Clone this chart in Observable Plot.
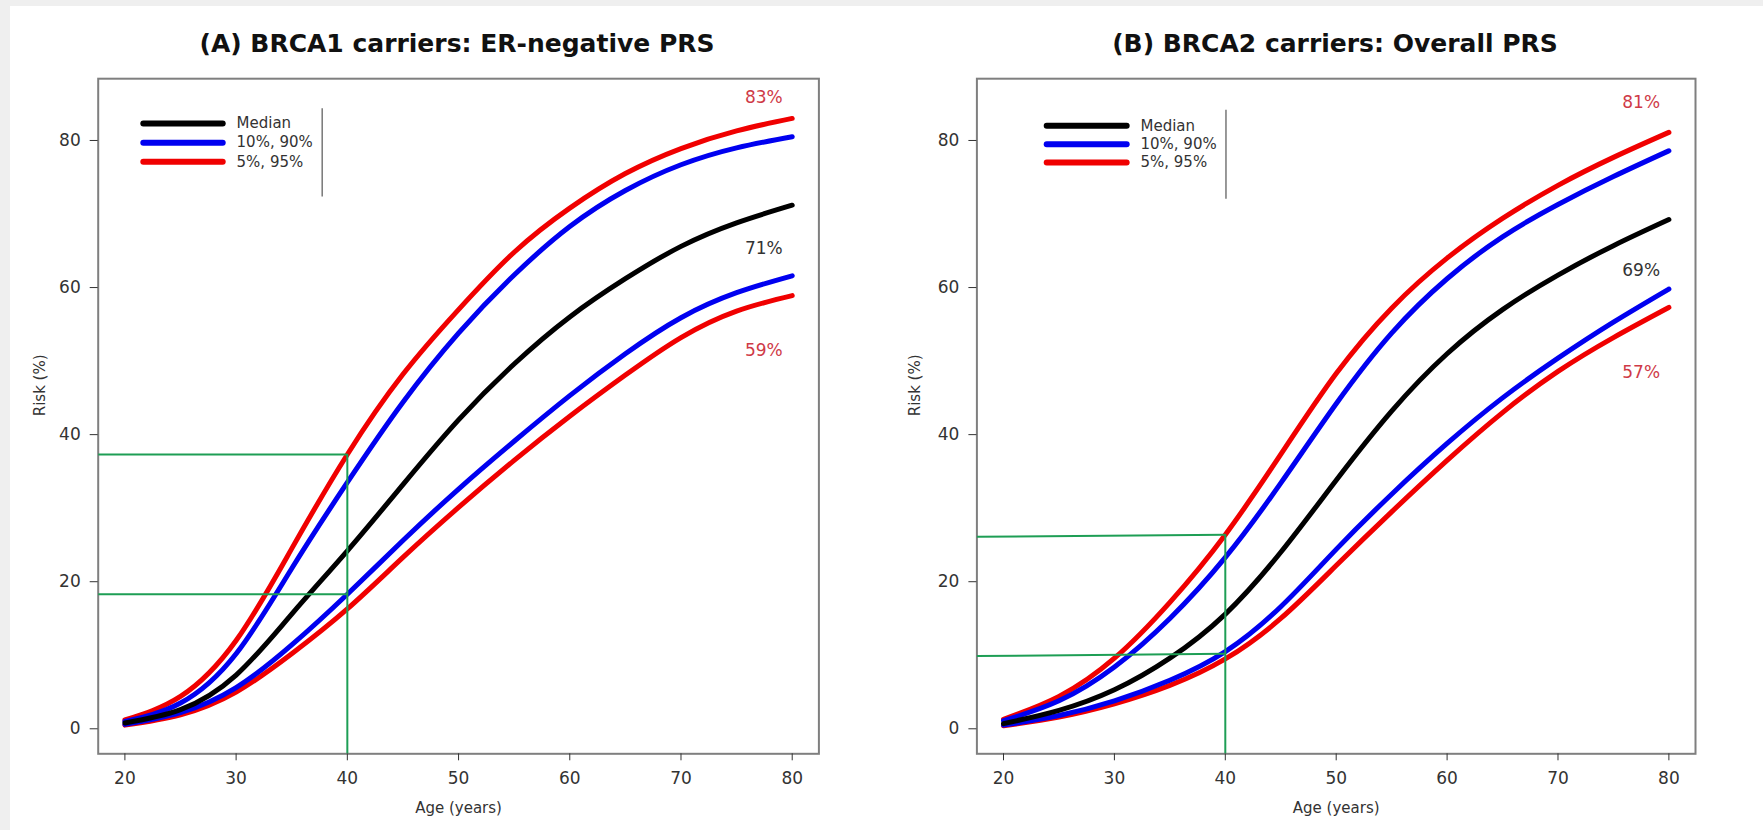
<!DOCTYPE html>
<html><head><meta charset="utf-8">
<script src="https://cdn.jsdelivr.net/npm/d3@7"></script>
<script src="https://cdn.jsdelivr.net/npm/@observablehq/plot@0.6"></script>
<style>
html,body{margin:0;padding:0;}
body{width:1763px;height:830px;background:#efefef;position:relative;overflow:hidden;font-family:"DejaVu Sans",sans-serif;}
#sheet{position:absolute;left:10px;top:6px;right:0;bottom:0;background:#fff;}
.panel{position:absolute;top:0;}
.title{position:absolute;top:31px;width:880px;font-weight:bold;font-size:25px;line-height:25px;text-align:center;color:#111;white-space:nowrap;}
</style></head><body>
<div id="sheet"></div>
<div id="titleA" class="title" style="left:17px"></div>
<div id="titleB" class="title" style="left:895px"></div>
<div id="panelA" class="panel" style="left:0px"></div>
<div id="panelB" class="panel" style="left:880px"></div>
<script>
// ---------- data ----------
const titles = ["(A) BRCA1 carriers: ER-negative PRS", "(B) BRCA2 carriers: Overall PRS"];
const ages = [20, 25, 30, 35, 40, 45, 50, 55, 60, 65, 70, 75, 80];
const xTicks = [20, 30, 40, 50, 60, 70, 80];
const yTicks = [0, 20, 40, 60, 80];
const xLabel = "Age (years)";
const yLabel = "Risk (%)";

// Panel A: BRCA1, ER-negative PRS (cumulative risk %, by percentile of PRS)
const A_p95 = [1.2, 4.4, 12.0, 24.5, 37.3, 48.2, 57.0, 64.8, 70.8, 75.5, 78.9, 81.3, 83.0];
const A_p90 = [1.0, 3.5, 10.2, 21.8, 33.5, 44.4, 53.8, 61.7, 68.3, 73.2, 76.7, 79.0, 80.5];
const A_p50 = [0.8, 2.6, 7.3, 15.6, 24.2, 33.2, 42.0, 49.6, 56.0, 61.2, 65.6, 68.8, 71.2];
const A_p10 = [0.6, 2.2, 5.6, 11.4, 18.3, 25.6, 32.6, 39.1, 45.3, 51.0, 55.9, 59.3, 61.6];
const A_p05 = [0.5, 1.9, 5.0, 10.2, 16.3, 23.3, 30.1, 36.5, 42.5, 48.1, 53.2, 56.8, 58.9];

// Panel B: BRCA2, overall PRS
const B_p95 = [1.3, 4.4, 9.6, 17.2, 26.4, 37.3, 48.3, 57.2, 64.0, 69.4, 73.9, 77.7, 81.1];
const B_p90 = [1.1, 3.8, 8.4, 15.0, 23.3, 33.4, 44.2, 53.8, 61.2, 66.9, 71.3, 75.1, 78.6];
const B_p50 = [0.7, 2.5, 5.3, 9.6, 15.6, 24.0, 33.8, 43.2, 51.0, 57.0, 61.7, 65.7, 69.25];
const B_p10 = [0.5, 1.8, 3.8, 6.6, 10.5, 16.6, 24.4, 31.9, 38.8, 45.0, 50.4, 55.3, 59.8];
const B_p05 = [0.4, 1.6, 3.4, 5.9, 9.5, 15.0, 22.2, 29.5, 36.5, 43.0, 48.6, 53.2, 57.3];

const legendLabels = ["Median", "10%, 90%", "5%, 95%"];
const A_endLabels = ["83%", "71%", "59%"];
const A_endValues = [85.9, 65.3, 51.4];
const B_endLabels = ["81%", "69%", "57%"];
const B_endValues = [85.2, 62.3, 48.4];

// green reading guides at age 40 (risk read-offs)
const guideAge = 40;
const A_guideLeft = [37.3, 18.3];
const A_guideRight = [37.3, 18.3];
const B_guideLeft = [26.1, 9.9];
const B_guideRight = [26.4, 10.2];

// ---------- styles ----------
const RED = "#f00000", BLUE = "#0000f0", BLACK = "#000000", GREEN = "#1e9e55";
const LABEL_RED = "#cf3a47", LABEL_DARK = "#333333";
const groupColor = {p95: RED, p90: BLUE, p50: BLACK, p10: BLUE, p05: RED};
const legendColors = [BLACK, BLUE, RED];
const endColors = [LABEL_RED, LABEL_DARK, LABEL_RED];
const xDomain = [17.6, 82.4];
const yDomain = [-3.4, 88.4];

function rows(series) {
  const out = [];
  // draw order: red, blue, black on top
  for (const key of ["p95", "p05", "p90", "p10", "p50"]) {
    series[key].forEach((v, i) => out.push({series: key, age: ages[i], risk: v, color: groupColor[key]}));
  }
  return out;
}

function panel(cfg) {
  const legend = legendLabels.map((label, i) => ({label, color: legendColors[i], y: cfg.legendY[i]}));
  const ends = cfg.endLabels.map((t, i) => ({t, y: cfg.endValues[i], color: endColors[i]}));
  const guides = cfg.guideLeft.map((v, i) => ({y1: v, y2: cfg.guideRight[i]}));
  return Plot.plot({
    width: cfg.width, height: 830,
    marginLeft: cfg.ml, marginRight: cfg.mr, marginTop: 78.2, marginBottom: 76.7,
    x: {domain: xDomain},
    y: {domain: yDomain},
    style: {fontFamily: "DejaVu Sans", background: "transparent", color: "#333", overflow: "visible"},
    marks: [
      Plot.frame({stroke: "#7f7f7f", strokeWidth: 2}),
      Plot.axisX({ticks: xTicks, tickSize: 7, tickPadding: 11, fontSize: 17, label: null}),
      Plot.axisY({ticks: yTicks, tickSize: 8, tickPadding: 9.5, fontSize: 17, label: null}),
      Plot.text([xLabel], {frameAnchor: "bottom", dy: 59, fontSize: 15, fill: "#333"}),
      Plot.text([yLabel], {frameAnchor: "left", dx: cfg.ylabDx, rotate: -90, fontSize: 15, fill: "#333"}),
      Plot.line(rows(cfg.series), {x: "age", y: "risk", z: "series", stroke: "color", strokeWidth: 5,
        curve: "natural", strokeLinecap: "round", strokeLinejoin: "round"}),
      Plot.link(guides, {x1: xDomain[0], x2: guideAge, y1: "y1", y2: "y2", stroke: GREEN, strokeWidth: 2}),
      Plot.ruleX([guideAge], {y1: yDomain[0], y2: cfg.guideRight[0], stroke: GREEN, strokeWidth: 2}),
      Plot.ruleY(legend, {y: "y", x1: cfg.legendX1, x2: cfg.legendX2, stroke: "color", strokeWidth: 6, strokeLinecap: "round"}),
      Plot.text(legend, {x: cfg.legendTextX, y: "y", text: "label", textAnchor: "start", fontSize: 15, fill: "#333"}),
      Plot.ruleX([cfg.legendBarX], {y1: cfg.legendBarY[0], y2: cfg.legendBarY[1], stroke: "#777", strokeWidth: 1.5}),
      Plot.text(ends, {x: cfg.endX, y: "y", text: "t", fill: "color", fontSize: 17})
    ]
  });
}

document.getElementById("titleA").textContent = titles[0];
document.getElementById("titleB").textContent = titles[1];

document.getElementById("panelA").append(panel({
  width: 880, ml: 97.7, mr: 61.6, ylabDx: -58,
  series: {p95: A_p95, p90: A_p90, p50: A_p50, p10: A_p10, p05: A_p05},
  legendY: [82.3, 79.7, 77.1], legendX1: 21.7, legendX2: 28.84, legendTextX: 30.04,
  legendBarX: 37.74, legendBarY: [72.3, 84.3],
  endLabels: A_endLabels, endValues: A_endValues, endX: 77.45,
  guideLeft: A_guideLeft, guideRight: A_guideRight
}));

document.getElementById("panelB").append(panel({
  width: 883, ml: 96.4, mr: 68, ylabDx: -62,
  series: {p95: B_p95, p90: B_p90, p50: B_p50, p10: B_p10, p05: B_p05},
  legendY: [82.0, 79.5, 77.0], legendX1: 23.94, legendX2: 31.15, legendTextX: 32.35,
  legendBarX: 40.06, legendBarY: [72.0, 84.1],
  endLabels: B_endLabels, endValues: B_endValues, endX: 77.5,
  guideLeft: B_guideLeft, guideRight: B_guideRight
}));
</script>
</body></html>
